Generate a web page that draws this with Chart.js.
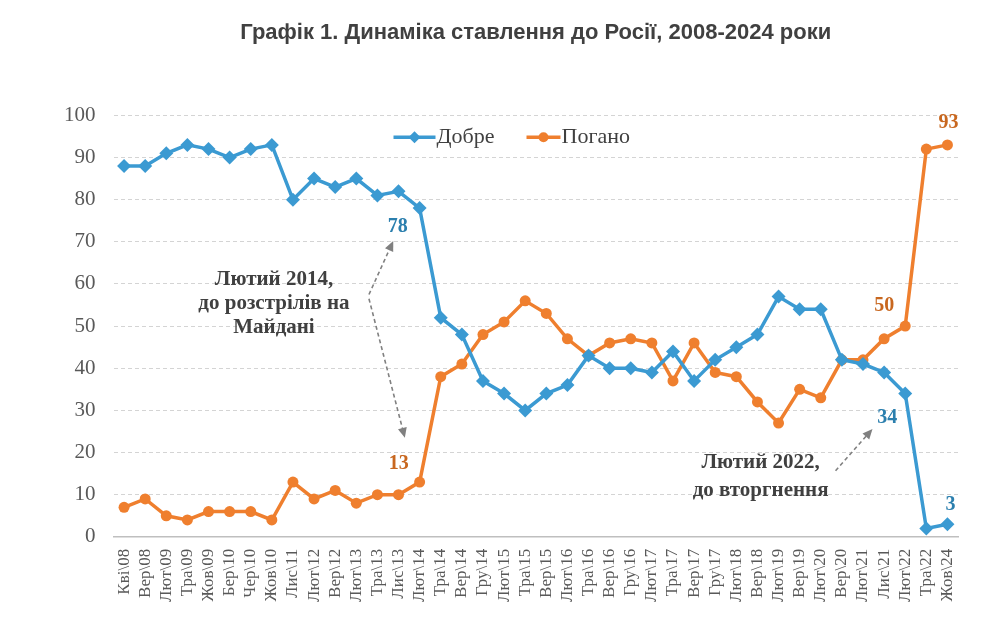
<!DOCTYPE html>
<html>
<head>
<meta charset="utf-8">
<script src="https://cdn.jsdelivr.net/npm/chart.js@4.4.1/dist/chart.umd.min.js"></script>
<style>
  body { margin: 0; background: #fff; }
  #wrap { width: 1002px; height: 620px; }
</style>
</head>
<body>
<div id="wrap"><canvas id="myChart"></canvas></div>
<script>
// дані
const labels = ['Кві\\08','Вер\\08','Лют\\09','Тра\\09','Жов\\09','Бер\\10','Чер\\10','Жов\\10','Лис\\11','Лют\\12',
  'Вер\\12','Лют\\13','Тра\\13','Лис\\13','Лют\\14','Тра\\14','Вер\\14','Гру\\14','Лют\\15','Тра\\15',
  'Вер\\15','Лют\\16','Тра\\16','Вер\\16','Гру\\16','Лют\\17','Тра\\17','Вер\\17','Гру\\17','Лют\\18',
  'Вер\\18','Лют\\19','Вер\\19','Лют\\20','Вер\\20','Лют\\21','Лис\\21','Лют\\22','Тра\\22','Жов\\24'];
const dobre = [88,88,91,93,92,90,92,93,80,85, 83,85,81,82,78,52,48,37,34,30,
  34,36,43,40,40,39,44,37,42,45, 48,57,54,54,42,41,39,34,2,3];
const pogano = [7,9,5,4,6,6,6,4,13,9, 11,8,10,10,13,38,41,48,51,56,
  53,47,43,46,47,46,37,46,39,38, 32,27,35,33,42,42,47,50,92,93];
const yTicks = [0,10,20,30,40,50,60,70,80,90,100];

const BLUE = '#3b9ad2';
const ORANGE = '#ef7f2e';
const serif = "'Liberation Serif', 'Times New Roman', serif";

// підписи значень: [набір, індекс, текст, dx, dy]
const valueLabels = [
  [0, 14, '78', -22, 19],
  [1, 14, '13', -21, -18],
  [1, 37, '50', -21, -20],
  [1, 39, '93', 1, -22],
  [0, 37, '34', -18, 24],
  [0, 39, '3', 3, -19]
];

const notes = [
  { x: 7.1, ys: [61.0, 55.3, 49.6], lines: ['Лютий 2014,', 'до розстрілів на', 'Майдані'] },
  { x: 30.15, ys: [17.6, 10.9], lines: ['Лютий 2022,', 'до вторгнення'] }
];
const arrows = [
  [11.6, 57.5, 12.75, 70.2],
  [11.6, 56.5, 13.3, 23.5],
  [33.7, 15.7, 35.45, 25.6]
];

function arrow(ctx, x1, y1, x2, y2) {
  ctx.save();
  ctx.strokeStyle = '#808080';
  ctx.fillStyle = '#808080';
  ctx.lineWidth = 1.6;
  ctx.setLineDash([4, 3]);
  const a = Math.atan2(y2 - y1, x2 - x1);
  ctx.beginPath();
  ctx.moveTo(x1, y1);
  ctx.lineTo(x2 - 7 * Math.cos(a), y2 - 7 * Math.sin(a));
  ctx.stroke();
  ctx.setLineDash([]);
  ctx.beginPath();
  ctx.moveTo(x2, y2);
  ctx.lineTo(x2 - 10 * Math.cos(a) + 4.5 * Math.sin(a), y2 - 10 * Math.sin(a) - 4.5 * Math.cos(a));
  ctx.lineTo(x2 - 10 * Math.cos(a) - 4.5 * Math.sin(a), y2 - 10 * Math.sin(a) + 4.5 * Math.cos(a));
  ctx.closePath();
  ctx.fill();
  ctx.restore();
}

const extras = {
  id: 'extras',
  afterDatasetsDraw(chart) {
    const ctx = chart.ctx;
    const xs = chart.scales.x, ys = chart.scales.y;
    ctx.save();
    // легенда
    const ly = ys.getPixelForValue(94.8);
    const lx = chart.chartArea.left + 280;
    ctx.lineWidth = 3.5;
    ctx.strokeStyle = BLUE;
    ctx.beginPath(); ctx.moveTo(lx, ly); ctx.lineTo(lx + 42, ly); ctx.stroke();
    ctx.fillStyle = BLUE;
    ctx.beginPath();
    ctx.moveTo(lx + 21, ly - 6); ctx.lineTo(lx + 27, ly); ctx.lineTo(lx + 21, ly + 6); ctx.lineTo(lx + 15, ly);
    ctx.closePath(); ctx.fill();
    ctx.font = '22px ' + serif;
    ctx.fillStyle = '#404040';
    ctx.textBaseline = 'middle';
    ctx.textAlign = 'left';
    ctx.fillText('Добре', lx + 43, ly);
    const lx2 = lx + 133;
    ctx.strokeStyle = ORANGE;
    ctx.beginPath(); ctx.moveTo(lx2, ly); ctx.lineTo(lx2 + 34, ly); ctx.stroke();
    ctx.fillStyle = ORANGE;
    ctx.beginPath(); ctx.arc(lx2 + 17, ly, 5, 0, Math.PI * 2); ctx.fill();
    ctx.fillStyle = '#404040';
    ctx.fillText('Погано', lx2 + 35, ly);

    // підписи значень
    ctx.font = 'bold 20px ' + serif;
    ctx.textAlign = 'center';
    valueLabels.forEach(([ds, i, t, dx, dy]) => {
      const p = chart.getDatasetMeta(ds).data[i];
      ctx.fillStyle = ds === 0 ? '#2b7fae' : '#c8671f';
      ctx.fillText(t, p.x + dx, p.y + dy);
    });

    // примітки
    ctx.font = 'bold 21px ' + serif;
    ctx.fillStyle = '#404040';
    notes.forEach(n => {
      n.lines.forEach((l, k) => ctx.fillText(l, xs.getPixelForValue(n.x), ys.getPixelForValue(n.ys[k])));
    });
    arrows.forEach(a => arrow(ctx, xs.getPixelForValue(a[0]), ys.getPixelForValue(a[1]),
      xs.getPixelForValue(a[2]), ys.getPixelForValue(a[3])));
    ctx.restore();
  }
};

const ctx = document.getElementById('myChart').getContext('2d');
const myChart = new Chart(ctx, {
  type: 'line',
  data: {
    labels: labels,
    datasets: [{
      label: 'Добре',
      data: dobre,
      borderColor: BLUE,
      backgroundColor: BLUE,
      borderWidth: 3.5,
      pointStyle: 'rectRot',
      pointRadius: 7,
      pointBorderWidth: 0,
      tension: 0
    }, {
      label: 'Погано',
      data: pogano,
      borderColor: ORANGE,
      backgroundColor: ORANGE,
      borderWidth: 3.5,
      pointStyle: 'circle',
      pointRadius: 5.5,
      pointBorderWidth: 0,
      tension: 0
    }]
  },
  options: {
    responsive: true,
    maintainAspectRatio: false,
    animation: false,
    layout: { padding: { left: 46, right: 44, top: 0, bottom: 6 } },
    plugins: {
      legend: { display: false },
      tooltip: { enabled: false },
      title: {
        display: true,
        text: 'Графік 1. Динаміка ставлення до Росії, 2008-2024 роки',
        fullSize: false,
        color: '#404040',
        font: { family: "'Liberation Sans', Arial, sans-serif", size: 22, weight: 'bold' },
        padding: { top: 20, bottom: 69 }
      }
    },
    scales: {
      x: {
        offset: true,
        grid: { display: false, drawTicks: false },
        border: { display: true, color: '#bfbfbf', width: 1.5 },
        ticks: {
          autoSkip: false,
          maxRotation: 90,
          minRotation: 90,
          padding: 12,
          color: '#595959',
          font: { family: serif, size: 17 }
        }
      },
      y: {
        min: 0,
        max: 100,
        afterBuildTicks: axis => { axis.ticks = yTicks.map(v => ({ value: v })); },
        grid: { color: '#d4d4d4', lineWidth: 1, drawTicks: false },
        border: { display: false, dash: [4, 3] },
        ticks: {
          padding: 18,
          color: '#595959',
          font: { family: serif, size: 21 }
        }
      }
    }
  },
  plugins: [extras]
});
</script>
</body>
</html>
